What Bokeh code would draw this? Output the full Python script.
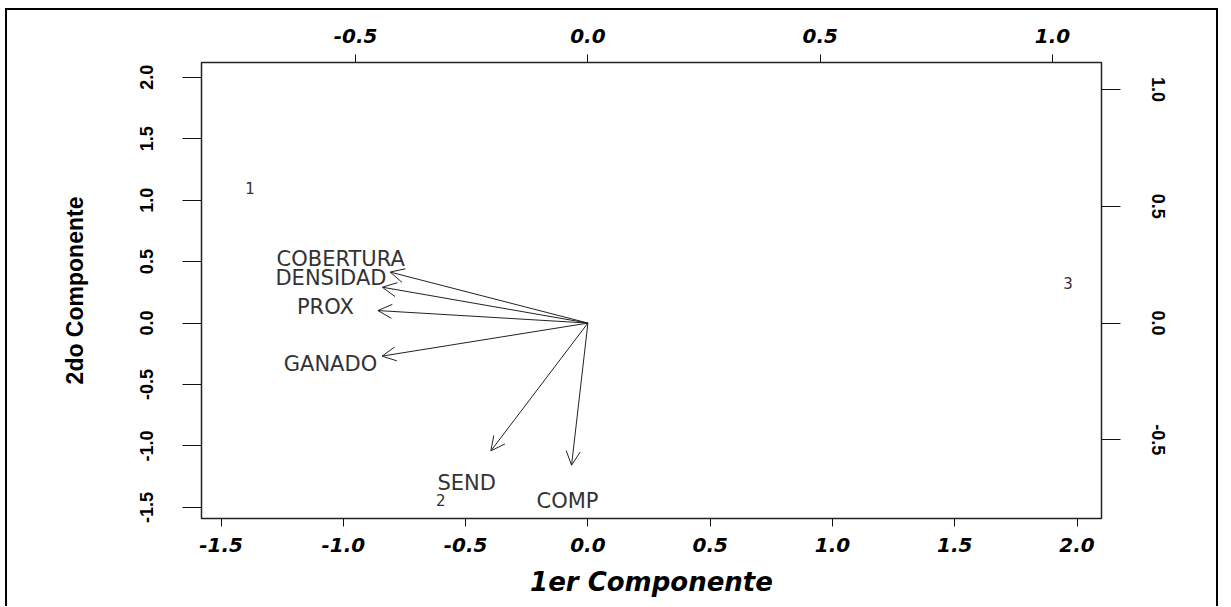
from bokeh.plotting import figure
from bokeh.models import (Range1d, LinearAxis, FixedTicker, ColumnDataSource,
                          Arrow, OpenHead, PrintfTickFormatter)
from bokeh.core.properties import value
from bokeh.embed import file_html
from bokeh.resources import INLINE

# ---- data ----
obs_labels = ["1", "2", "3"]
obs_pc1 = [-1.382, -0.602, 1.963]
obs_pc2 = [1.10, -1.443, 0.322]

var_labels = ["COBERTURA", "DENSIDAD", "PROX", "GANADO", "SEND", "COMP"]
var_pc1 = [-0.532, -0.553, -0.565, -0.554, -0.261, -0.044]
var_pc2 = [0.273, 0.192, 0.067, -0.177, -0.684, -0.761]

main_ticks = [-1.5, -1.0, -0.5, 0.0, 0.5, 1.0, 1.5, 2.0]
var_ticks = [-0.5, 0.0, 0.5, 1.0]

x_lim = (-1.58, 2.10)
y_lim = (-1.59, 2.12)
var_ratio = 1.9          # scale between observation axes and variable axes
arrow_frac = 0.8         # R biplot draws arrows to 0.8 of label position

# ---- figure ----
p = figure(width=1213, height=598,
           x_range=Range1d(*x_lim), y_range=Range1d(*y_lim),
           output_backend="svg", toolbar_location=None,
           min_border_left=194, min_border_right=119,
           min_border_top=52, min_border_bottom=90,
           styles={"border": "2px solid black", "border-bottom": "none",
                   "margin-left": "5px", "margin-top": "8px"})
p.extra_x_ranges = {"top": Range1d(x_lim[0] / var_ratio, x_lim[1] / var_ratio)}
p.extra_y_ranges = {"right": Range1d(y_lim[0] / var_ratio, y_lim[1] / var_ratio)}

p.xgrid.visible = False
p.ygrid.visible = False
p.background_fill_color = "white"
p.border_fill_color = "white"
p.outline_line_color = "#222222"
p.outline_line_width = 1.5

wide_font = "DejaVu Sans"
narrow_font = "Liberation Sans"

bottom_axis = p.below[0]
left_axis = p.left[0]
top_axis = LinearAxis(x_range_name="top")
right_axis = LinearAxis(y_range_name="right")
p.add_layout(top_axis, "above")
p.add_layout(right_axis, "right")

for ax in [bottom_axis, top_axis]:
    ax.major_label_text_font = wide_font
    ax.major_label_text_font_style = "bold italic"
    ax.major_label_text_font_size = "20px"
    ax.major_tick_out = 8
    ax.major_tick_in = 0
bottom_axis.major_label_standoff = 11
top_axis.major_label_standoff = 12

for ax in [left_axis, right_axis]:
    ax.major_label_text_font = narrow_font
    ax.major_label_text_font_style = "bold"
    ax.major_label_text_font_size = "18px"
    ax.major_label_orientation = "vertical"
    ax.major_tick_out = 19
    ax.major_tick_in = 0
left_axis.major_label_standoff = 29
right_axis.major_label_standoff = 31

for ax in [bottom_axis, top_axis, left_axis, right_axis]:
    ax.axis_line_color = None
    ax.minor_tick_line_color = None
    ax.major_tick_line_color = "#111111"
    ax.major_tick_line_width = 1
    ax.major_label_text_color = "black"
    ax.formatter = PrintfTickFormatter(format="%.1f")

bottom_axis.ticker = FixedTicker(ticks=main_ticks)
left_axis.ticker = FixedTicker(ticks=main_ticks)
top_axis.ticker = FixedTicker(ticks=var_ticks)
right_axis.ticker = FixedTicker(ticks=var_ticks)

bottom_axis.axis_label = "1er Componente"
bottom_axis.axis_label_text_font = wide_font
bottom_axis.axis_label_text_font_style = "bold italic"
bottom_axis.axis_label_text_font_size = "26px"
bottom_axis.axis_label_standoff = 12
bottom_axis.axis_label_text_color = "black"

left_axis.axis_label = "2do Componente"
left_axis.axis_label_text_font = narrow_font
left_axis.axis_label_text_font_style = "bold"
left_axis.axis_label_text_font_size = "23px"
left_axis.axis_label_standoff = 50
left_axis.axis_label_text_color = "black"

# ---- observations ----
obs_src = ColumnDataSource(dict(x=obs_pc1, y=obs_pc2, t=obs_labels))
p.text(x="x", y="y", text="t", source=obs_src, text_align="center",
       text_baseline="middle", text_font=value(wide_font),
       text_font_size="15px", text_color="#333333")

# ---- variables: arrows + labels ----
var_src = ColumnDataSource(dict(
    x0=[0.0] * len(var_pc1), y0=[0.0] * len(var_pc2),
    x1=[v * arrow_frac for v in var_pc1], y1=[v * arrow_frac for v in var_pc2],
    x=var_pc1, y=var_pc2, t=var_labels))

p.add_layout(Arrow(end=OpenHead(size=14, line_width=1, line_color="#222222"),
                   x_start="x0", y_start="y0", x_end="x1", y_end="y1",
                   source=var_src, line_color="#222222", line_width=1,
                   x_range_name="top", y_range_name="right"))

p.text(x="x", y="y", text="t", source=var_src, text_align="center",
       text_baseline="middle", text_font=value(wide_font),
       text_font_size="21px", text_color="#333333",
       x_range_name="top", y_range_name="right")

open("out.html", "w").write(file_html(p, INLINE))
